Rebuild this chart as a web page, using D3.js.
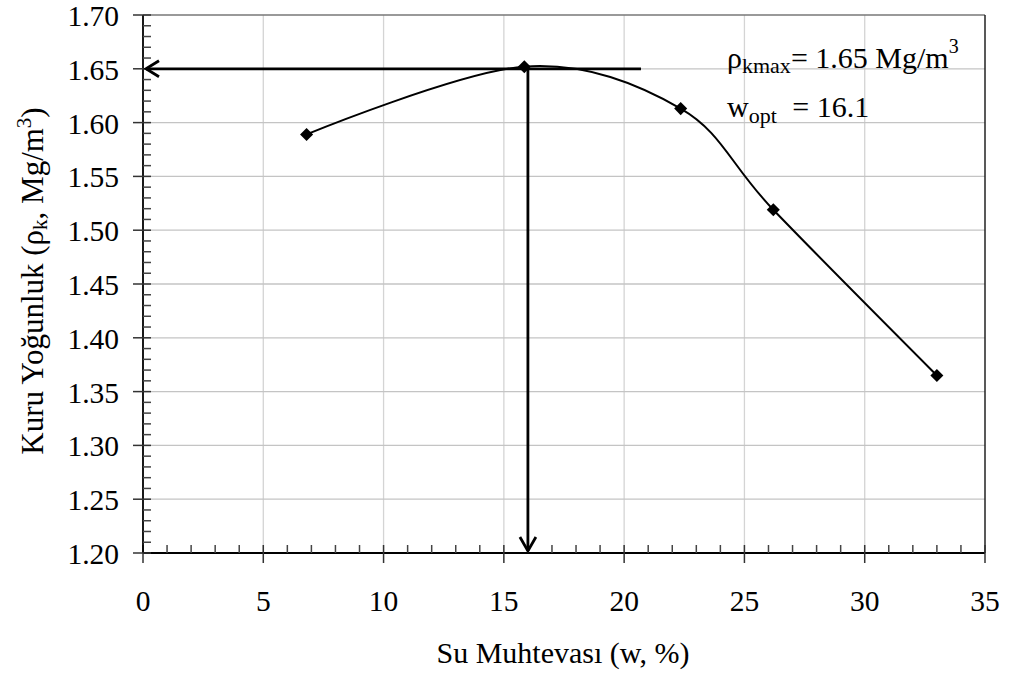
<!DOCTYPE html>
<html>
<head>
<meta charset="utf-8">
<script src="https://cdn.jsdelivr.net/npm/d3@7"></script>
<style>
  body { margin: 0; background: #fff; }
</style>
</head>
<body>
<svg id="chart" width="1010" height="679"></svg>
<script>
// compaction test readings
const waterContent = [6.8, 15.85, 22.35, 26.2, 33.0];
const dryDensity = [1.589, 1.652, 1.613, 1.519, 1.365];

const xTickValues = [0, 5, 10, 15, 20, 25, 30, 35];
const yTickValues = [1.20, 1.25, 1.30, 1.35, 1.40, 1.45, 1.50, 1.55, 1.60, 1.65, 1.70];

// read-off lines (max dry density / optimum water content)
const rhoMaxLine = 1.65;
const wOptLine = 16.0;
const readLineEnd = 20.7;
const rhoMaxLabel = "1.65";
const wOptLabel = "16.1";

const width = 1010, height = 679;
const margin = { top: 15, right: 25, bottom: 126, left: 143 };
const FONT = '"Liberation Serif"';

const svg = d3.select("#chart");

const x = d3.scaleLinear().domain([0, 35]).range([margin.left, width - margin.right]);
const y = d3.scaleLinear().domain([1.20, 1.70]).range([height - margin.bottom, margin.top]);

const fs = 29.5;

// helper so every text gets the serif face
function txt(sel) {
  return sel.append("text").style("font-family", FONT).attr("fill", "#000");
}

// gridlines
svg.append("g")
  .selectAll("line")
  .data(xTickValues.slice(1, -1))
  .enter()
  .append("line")
  .attr("x1", d => x(d)).attr("x2", d => x(d))
  .attr("y1", y(1.20)).attr("y2", y(1.70))
  .attr("stroke", "#d4d4d4").attr("stroke-width", 1.3);

svg.append("g")
  .selectAll("line")
  .data(yTickValues.slice(1, -1))
  .enter()
  .append("line")
  .attr("x1", x(0)).attr("x2", x(35))
  .attr("y1", d => y(d)).attr("y2", d => y(d))
  .attr("stroke", "#c4c4c4").attr("stroke-width", 1.3);

// frame: top grey, right dark
svg.append("line")
  .attr("x1", x(0)).attr("x2", x(35)).attr("y1", y(1.70)).attr("y2", y(1.70))
  .attr("stroke", "#777").attr("stroke-width", 1.5);
svg.append("line")
  .attr("x1", x(35)).attr("x2", x(35)).attr("y1", y(1.70)).attr("y2", y(1.20))
  .attr("stroke", "#222").attr("stroke-width", 1.5);

// x axis
const xAxis = svg.append("g").attr("class", "x-axis");
xAxis.append("line")
  .attr("x1", x(0)).attr("x2", x(35)).attr("y1", y(1.20)).attr("y2", y(1.20))
  .attr("stroke", "#000").attr("stroke-width", 1.8);
xAxis.selectAll(".minor")
  .data(d3.range(0, 36, 1).filter(d => d % 5 !== 0))
  .enter()
  .append("line")
  .attr("x1", d => x(d)).attr("x2", d => x(d))
  .attr("y1", y(1.20)).attr("y2", y(1.20) - 8)
  .attr("stroke", "#444").attr("stroke-width", 1.5);
xAxis.selectAll(".major")
  .data(xTickValues)
  .enter()
  .append("line")
  .attr("x1", d => x(d)).attr("x2", d => x(d))
  .attr("y1", y(1.20) - 8).attr("y2", y(1.20) + 10)
  .attr("stroke", "#333").attr("stroke-width", 1.5);
xTickValues.forEach(d => {
  txt(xAxis)
    .attr("x", x(d))
    .attr("y", 611)
    .attr("text-anchor", "middle")
    .style("font-size", fs + "px")
    .text(d);
});

// y axis
const yAxis = svg.append("g").attr("class", "y-axis");
yAxis.append("line")
  .attr("x1", x(0)).attr("x2", x(0)).attr("y1", y(1.20)).attr("y2", y(1.70))
  .attr("stroke", "#000").attr("stroke-width", 1.8);
yAxis.selectAll(".minor")
  .data(d3.range(120, 171, 1).filter(d => d % 5 !== 0).map(d => d / 100))
  .enter()
  .append("line")
  .attr("x1", x(0)).attr("x2", x(0) + 8)
  .attr("y1", d => y(d)).attr("y2", d => y(d))
  .attr("stroke", "#444").attr("stroke-width", 1.5);
yAxis.selectAll(".major")
  .data(yTickValues)
  .enter()
  .append("line")
  .attr("x1", x(0) - 10).attr("x2", x(0) + 8)
  .attr("y1", d => y(d)).attr("y2", d => y(d))
  .attr("stroke", "#333").attr("stroke-width", 1.5);
yTickValues.forEach(d => {
  txt(yAxis)
    .attr("x", 119)
    .attr("y", y(d) + 11)
    .attr("text-anchor", "end")
    .style("font-size", fs + "px")
    .text(d3.format(".2f")(d));
});

// axis titles
txt(svg)
  .attr("x", 563)
  .attr("y", 663)
  .attr("text-anchor", "middle")
  .style("font-size", "30px")
  .text("Su Muhtevası (w, %)");

const yTitle = txt(svg)
  .attr("transform", "translate(43, 281) rotate(-90)")
  .attr("text-anchor", "middle")
  .style("font-size", "31px");
yTitle.append("tspan").text("Kuru Yoğunluk (ρ");
yTitle.append("tspan").attr("dy", 4).style("font-size", "21px").text("k");
yTitle.append("tspan").attr("dy", -4).text(", Mg/m");
yTitle.append("tspan").attr("dy", -12).style("font-size", "21px").text("3");
yTitle.append("tspan").attr("dy", 12).text(")");

// compaction curve
const points = waterContent.map((w, i) => [w, dryDensity[i]]);
const line = d3.line()
  .x(d => x(d[0]))
  .y(d => y(d[1]))
  .curve(d3.curveCardinal.tension(0));

svg.append("path")
  .datum(points)
  .attr("d", line)
  .attr("fill", "none")
  .attr("stroke", "#000")
  .attr("stroke-width", 2);

// read-off arrows
const arrows = svg.append("g").attr("stroke", "#000").attr("stroke-width", 2.8).attr("fill", "none");
arrows.append("line")
  .attr("x1", x(readLineEnd)).attr("x2", x(0) + 3)
  .attr("y1", y(rhoMaxLine)).attr("y2", y(rhoMaxLine));
arrows.append("path")
  .attr("d", `M${x(0) + 16},${y(rhoMaxLine) - 8} L${x(0) + 3},${y(rhoMaxLine)} L${x(0) + 16},${y(rhoMaxLine) + 8}`);
arrows.append("line")
  .attr("x1", x(wOptLine)).attr("x2", x(wOptLine))
  .attr("y1", y(rhoMaxLine)).attr("y2", y(1.20) - 2);
arrows.append("path")
  .attr("d", `M${x(wOptLine) - 8},${y(1.20) - 16} L${x(wOptLine)},${y(1.20) - 2} L${x(wOptLine) + 8},${y(1.20) - 16}`);

// markers (square diamonds)
svg.append("g")
  .selectAll("path")
  .data(points)
  .enter()
  .append("path")
  .attr("transform", d => `translate(${x(d[0])},${y(d[1])}) rotate(45)`)
  .attr("d", d3.symbol().type(d3.symbolSquare).size(85))
  .attr("fill", "#000");

// annotation
const ann1 = txt(svg).attr("x", 727).attr("y", 68).style("font-size", "30px");
ann1.append("tspan").text("ρ");
ann1.append("tspan").attr("dy", 5).style("font-size", "22px").text("kmax");
ann1.append("tspan").attr("dy", -5).text("= " + rhoMaxLabel + " Mg/m");
ann1.append("tspan").attr("dy", -15).style("font-size", "20px").text("3");

const ann2 = txt(svg).attr("x", 727).attr("y", 117).style("font-size", "30px");
ann2.append("tspan").text("w");
ann2.append("tspan").attr("dy", 6).style("font-size", "22px").text("opt");
ann2.append("tspan").attr("dy", -6).attr("dx", 8).text(" = " + wOptLabel);
</script>
</body>
</html>
